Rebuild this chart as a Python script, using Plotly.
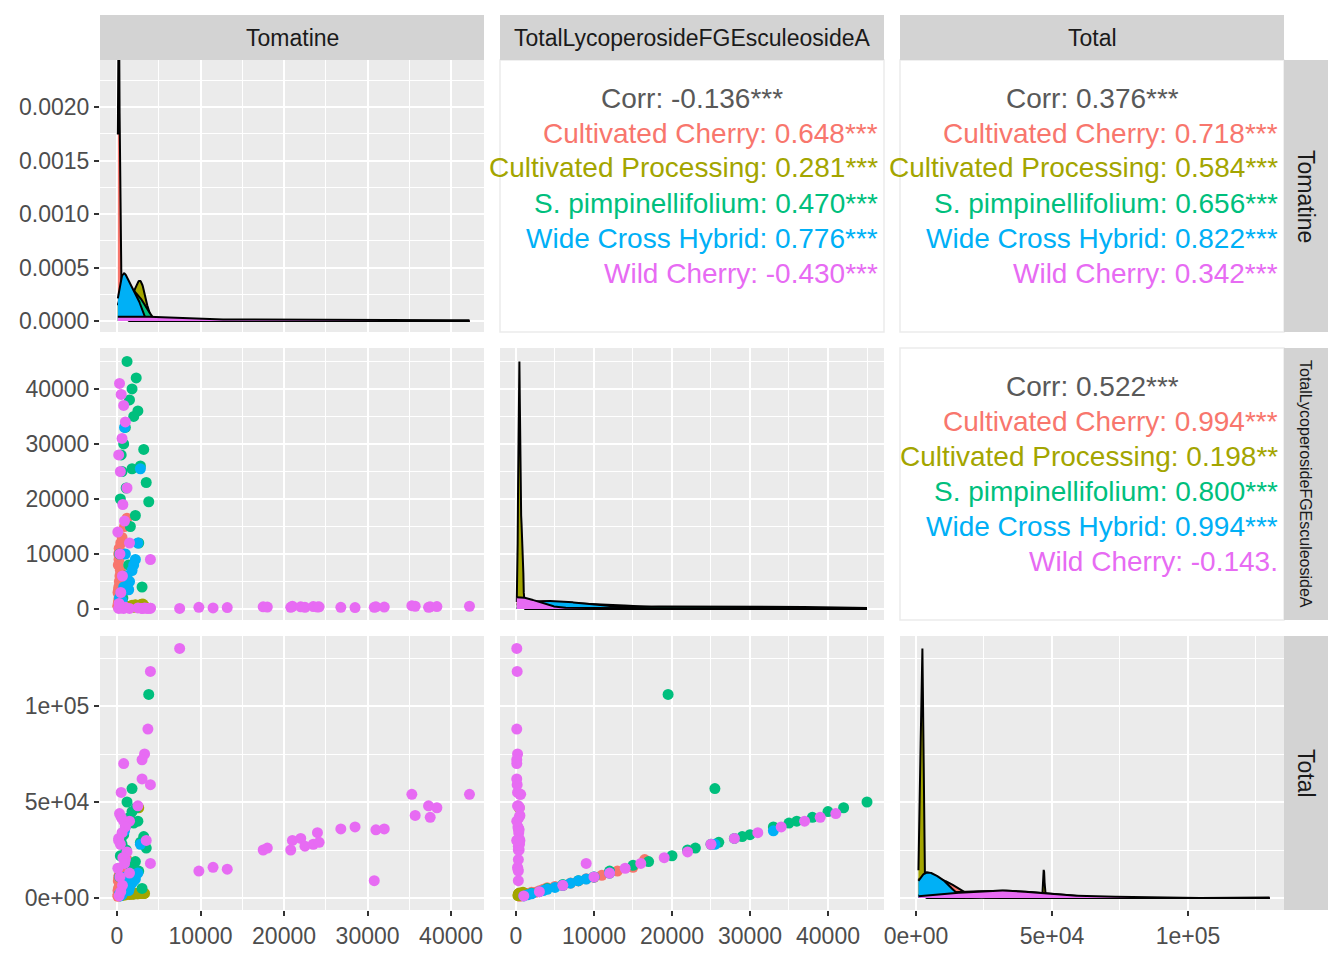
import numpy as np
import plotly.graph_objects as go
from plotly.subplots import make_subplots

groups = ["Cultivated Cherry", "Cultivated Processing", "S. pimpinellifolium", "Wide Cross Hybrid", "Wild Cherry"]
colors = ["#F8766D", "#A3A500", "#00BF7D", "#00B0F6", "#E76BF3"]
variables = ["Tomatine", "TotalLycoperosideFGEsculeosideA", "Total"]

cc_tom = [100, 150, 200, 250, 300, 120, 180, 220, 280, 350, 400, 160, 240, 200, 260, 450, 600, 900, 1200, 140]
cc_lyc = [500, 1000, 1500, 2000, 2500, 3000, 3500, 4000, 5000, 6000, 7000, 8000, 9000, 10000, 11000, 12000, 13000, 15000, 16500, 600]
cc_tot = [900, 1500, 2300, 3000, 3000, 3800, 4600, 5400, 6000, 6500, 7800, 8900, 10000, 10800, 11800, 13000, 14000, 16000, 20000, 2000]

cp_tom = [2000, 2500, 2800, 3000, 3200, 2600, 1500, 1000, 500, 300, 800, 2200, 2900, 3100, 1800, 400, 600, 2400, 3300, 2700]
cp_lyc = [300, 400, 500, 450, 350, 400, 450, 500, 420, 380, 650, 750, 850, 900, 700, 250, 300, 400, 500, 600]
cp_tot = [2000, 2200, 2400, 2600, 2300, 47000, 1800, 1600, 1400, 1500, 2100, 2500, 2700, 3000, 1900, 1200, 1300, 2200, 2400, 2300]

sp_tom = [1200, 2300, 1800, 2500, 2000, 3200, 3500, 3800, 2800, 1500, 1000, 800, 600, 400, 2200, 1600, 2600, 300, 1400, 900, 1800, 3000, 700, 500, 1100]
sp_lyc = [45000, 42000, 40000, 36000, 35000, 29000, 23000, 19500, 26000, 38000, 33000, 30000, 25000, 20000, 17000, 15000, 12000, 10000, 8000, 6000, 25500, 4000, 2000, 28000, 22000]
sp_tot = [50000, 47000, 45000, 40000, 39000, 32000, 26000, 106000, 29000, 42000, 37000, 33000, 28000, 22000, 19000, 17000, 14000, 11000, 9000, 7000, 57000, 5000, 2500, 31000, 25000]

wx_tom = [2800, 2000, 1500, 1200, 800, 500, 300, 1000, 1800, 2500, 600, 400, 1400, 2200, 900]
wx_lyc = [25500, 8000, 5000, 6000, 4000, 3000, 2000, 10000, 7000, 12000, 1500, 1000, 3500, 9000, 33000]
wx_tot = [28000, 9000, 5500, 6600, 4500, 3300, 2200, 11000, 7700, 13000, 1700, 1100, 3900, 9900, 35000]

wc_tom = [9800, 11500, 13200, 17500, 18000, 20800, 21000, 22000, 22500, 23500, 24000, 24200, 26800, 28500, 30800, 31000, 32000, 35300, 35700, 37300, 37500, 38300, 42200,
          7500, 4000, 3700, 3300, 3000, 4000, 3000, 2500, 1500, 4000, 3500, 800, 500, 200, 1000,
          300, 500, 800, 1000, 600, 200, 400, 1200, 700, 900, 100, 1500, 350, 650, 450, 250]
wc_lyc = [300, 200, 250, 400, 350, 300, 500, 400, 300, 450, 350, 400, 300, 250, 300, 400, 350, 600, 500, 300, 400, 450, 500,
          100, 150, 100, 200, 100, 150, 100, 200, 100, 9000, 150, 100, 200, 100, 300,
          41000, 39000, 37000, 34000, 31000, 28000, 25000, 22000, 19000, 16000, 14000, 12000, 10000, 6000, 3000, 1000]
wc_tot = [14000, 16000, 15000, 25000, 26000, 25000, 30000, 31000, 27000, 28000, 34000, 29000, 36000, 37000, 9000, 35500, 36000, 54000, 43000, 48000, 42000, 47000, 54000,
          130000, 118000, 88000, 75000, 72000, 59000, 62000, 48000, 40000, 18000, 30000, 70000, 55000, 30000, 20000,
          44000, 42000, 40000, 37000, 34000, 31000, 28000, 24000, 21000, 18000, 15500, 13000, 11000, 6600, 3300, 1100]

corr_top = ["Corr: -0.136***", "Corr: 0.376***", "Corr: 0.522***"]
corr_groups = [
    ["Cultivated Cherry: 0.648***", "Cultivated Processing: 0.281***", "S. pimpinellifolium: 0.470***", "Wide Cross Hybrid: 0.776***", "Wild Cherry: -0.430***"],
    ["Cultivated Cherry: 0.718***", "Cultivated Processing: 0.584***", "S. pimpinellifolium: 0.656***", "Wide Cross Hybrid: 0.822***", "Wild Cherry: 0.342***"],
    ["Cultivated Cherry: 0.994***", "Cultivated Processing: 0.198**", "S. pimpinellifolium: 0.800***", "Wide Cross Hybrid: 0.994***", "Wild Cherry: -0.143."],
]

data = [
    [cc_tom, cc_lyc, cc_tot], [cp_tom, cp_lyc, cp_tot], [sp_tom, sp_lyc, sp_tot],
    [wx_tom, wx_lyc, wx_tot], [wc_tom, wc_lyc, wc_tot],
]

W, H = 1344, 960
OFF = 8  # page body margin
colpx = [(100 - OFF, 484 - OFF), (500 - OFF, 884 - OFF), (900 - OFF, 1284 - OFF)]
rowpx = [(60 - OFF, 332 - OFF), (348 - OFF, 620 - OFF), (636 - OFF, 910 - OFF)]
stripx = (1284 - OFF, 1328 - OFF)
stripy = (15 - OFF, 60 - OFF)
xranges = [[-2036, 43940], [-2050, 47180], [-5880, 135300]]
yranges = [[-0.000103, 0.00244], [-2000, 47450], [-6250, 136460]]

fig = make_subplots(rows=3, cols=3)

def kde(vals, grid):
    v = np.asarray(vals, float)
    n = len(v)
    sd = v.std(ddof=1)
    iqr = np.subtract(*np.percentile(v, [75, 25]))
    bw = 0.9 * min(sd, iqr / 1.34 if iqr > 0 else sd) * n ** -0.2
    return np.exp(-0.5 * ((grid[:, None] - v[None, :]) / bw) ** 2).sum(1) / (n * bw * np.sqrt(2 * np.pi))

for k in range(3):
    allv = np.concatenate([np.asarray(d[k], float) for d in data])
    grid = np.linspace(allv.min(), allv.max(), 800)
    dens = [kde(d[k], grid) for d in data]
    scale = 1.0
    if k > 0:
        scale = allv.max() / max(x.max() for x in dens)
    for g in range(5):
        fig.add_trace(go.Scatter(x=grid, y=dens[g] * scale, mode="lines", fill="tozeroy",
                                 fillcolor=colors[g], line=dict(color="black", width=2),
                                 showlegend=False, hoverinfo="skip"), row=k + 1, col=k + 1)

for r in range(3):
    for c in range(3):
        if r > c:
            for g in range(5):
                fig.add_trace(go.Scatter(x=data[g][c], y=data[g][r], mode="markers",
                                         marker=dict(color=colors[g], size=11), showlegend=False),
                              row=r + 1, col=c + 1)

FONT = "Liberation Sans, Arial"
tickfont = dict(family=FONT, size=23, color="#4d4d4d")
xt = [dict(tickvals=[0, 10000, 20000, 30000, 40000], ticktext=["0", "10000", "20000", "30000", "40000"], minor=5000),
      dict(tickvals=[0, 10000, 20000, 30000, 40000], ticktext=["0", "10000", "20000", "30000", "40000"], minor=5000),
      dict(tickvals=[0, 50000, 100000], ticktext=["0e+00", "5e+04", "1e+05"], minor=25000)]
yt = [dict(tickvals=[0, 0.0005, 0.001, 0.0015, 0.002], ticktext=["0.0000", "0.0005", "0.0010", "0.0015", "0.0020"], minor=0.00025),
      dict(tickvals=[0, 10000, 20000, 30000, 40000], ticktext=["0", "10000", "20000", "30000", "40000"], minor=5000),
      dict(tickvals=[0, 50000, 100000], ticktext=["0e+00", "5e+04", "1e+05"], minor=25000)]

shapes, annots = [], []
for r in range(3):
    for c in range(3):
        idx = r * 3 + c + 1
        sfx = "" if idx == 1 else str(idx)
        x0, x1 = colpx[c]
        y0, y1 = rowpx[r]
        isText = c > r
        common = dict(showgrid=not isText, gridcolor="white", gridwidth=1.6, zeroline=False,
                      showline=False, ticks="outside", ticklen=5, tickcolor="#333333", tickwidth=1.5,
                      tickfont=tickfont, automargin=False)
        fig.layout["xaxis" + sfx].update(domain=[x0 / W, x1 / W], range=xranges[c],
                                         tickvals=xt[c]["tickvals"], ticktext=xt[c]["ticktext"],
                                         minor=dict(dtick=xt[c]["minor"], tick0=0, showgrid=not isText, gridcolor="white", gridwidth=0.8),
                                         showticklabels=(r == 2), **common)
        if r != 2:
            fig.layout["xaxis" + sfx].ticks = ""
        fig.layout["yaxis" + sfx].update(domain=[1 - y1 / H, 1 - y0 / H], range=yranges[r],
                                         tickvals=yt[r]["tickvals"], ticktext=yt[r]["ticktext"],
                                         minor=dict(dtick=yt[r]["minor"], tick0=0, showgrid=not isText, gridcolor="white", gridwidth=0.8),
                                         showticklabels=(c == 0), **common)
        if c != 0:
            fig.layout["yaxis" + sfx].ticks = ""
        if isText:
            shapes.append(dict(type="rect", xref="paper", yref="paper", x0=x0 / W, x1=x1 / W,
                               y0=1 - y1 / H, y1=1 - y0 / H, fillcolor="white",
                               line=dict(color="#ebebeb", width=1.5), layer="below"))
        else:
            shapes.append(dict(type="rect", xref="paper", yref="paper", x0=x0 / W, x1=x1 / W,
                               y0=1 - y1 / H, y1=1 - y0 / H, fillcolor="#ebebeb", line=dict(width=0), layer="below"))

for c in range(3):
    x0, x1 = colpx[c]
    shapes.append(dict(type="rect", xref="paper", yref="paper", x0=x0 / W, x1=x1 / W, y0=1 - stripy[1] / H, y1=1 - stripy[0] / H,
                       fillcolor="#d3d3d3", line=dict(width=0)))
    annots.append(dict(x=(x0 + x1) / 2 / W, y=1 - (stripy[0] + stripy[1]) / 2 / H, xref="paper", yref="paper", text=variables[c],
                       showarrow=False, xanchor="center", yanchor="middle", font=dict(family=FONT, size=23, color="#1a1a1a")))
for r in range(3):
    y0, y1 = rowpx[r]
    shapes.append(dict(type="rect", xref="paper", yref="paper", x0=stripx[0] / W, x1=stripx[1] / W, y0=1 - y1 / H, y1=1 - y0 / H,
                       fillcolor="#d3d3d3", line=dict(width=0)))
    annots.append(dict(x=(stripx[0] + stripx[1]) / 2 / W, y=1 - (y0 + y1) / 2 / H, xref="paper", yref="paper", text=variables[r],
                       showarrow=False, textangle=90, xanchor="center", yanchor="middle",
                       font=dict(family=FONT, size=23 if r != 1 else 16, color="#1a1a1a")))

cells = [(0, 1), (0, 2), (1, 2)]
for i, (r, c) in enumerate(cells):
    x0, x1 = colpx[c]
    ytop = rowpx[r][0] + 38
    annots.append(dict(x=(x0 + x1) / 2 / W, y=1 - ytop / H, xref="paper", yref="paper", text=corr_top[i], showarrow=False,
                       font=dict(family=FONT, size=28, color="#595959"), xanchor="center", yanchor="middle"))
    for g in range(5):
        annots.append(dict(x=(x1 - 4) / W, y=1 - (ytop + 35 * (g + 1)) / H, xref="paper", yref="paper", text=corr_groups[i][g],
                           showarrow=False, font=dict(family=FONT, size=28, color=colors[g]),
                           xanchor="right", yanchor="middle"))

fig.update_layout(width=W, height=H, margin=dict(l=0, r=0, t=0, b=0), paper_bgcolor="white",
                  plot_bgcolor="rgba(0,0,0,0)", shapes=shapes, annotations=annots, showlegend=False)
fig.write_html("out.html")
